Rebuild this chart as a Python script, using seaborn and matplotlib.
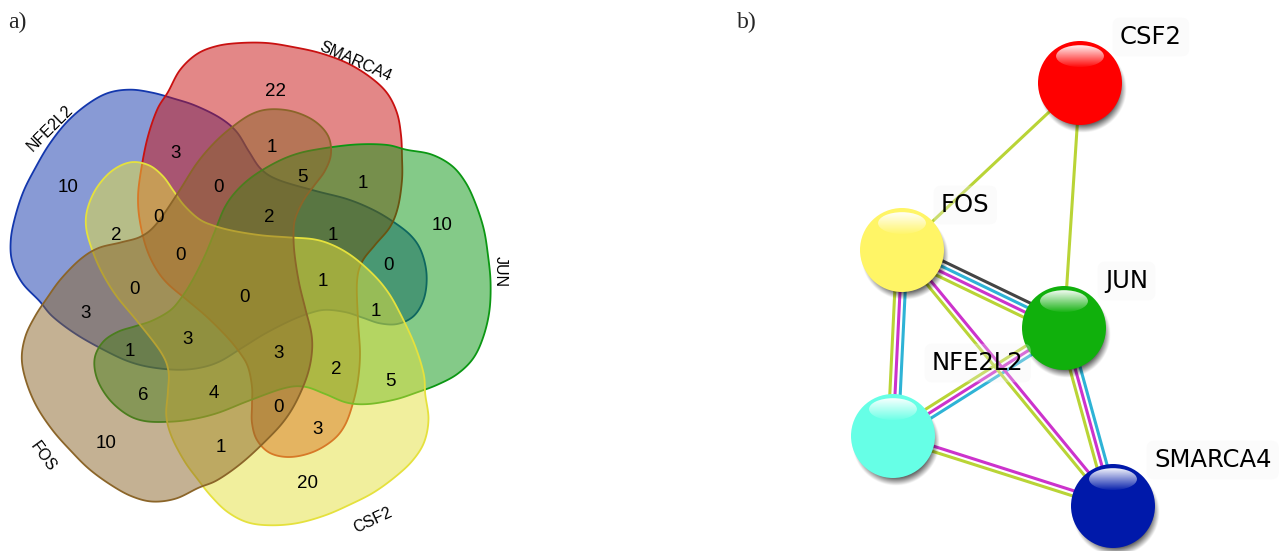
import numpy as np
import pandas as pd
import matplotlib
matplotlib.use("Agg")
import matplotlib.pyplot as plt
import seaborn as sns
from matplotlib.patches import Polygon, Ellipse

# ---------------- data ----------------
set_names = ["NFE2L2", "SMARCA4", "JUN", "CSF2", "FOS"]
set_colors = ["#1337ad", "#c91111", "#0b9713", "#e5e13d", "#8b6529"]

# counts of the 31 Venn regions
region_counts = [22, 3, 1, 10, 5, 1, 0, 0, 2, 10, 2, 1, 0, 0,
                 1, 0, 0, 1, 3, 3, 1, 3, 2, 5, 6, 4, 0, 3, 10, 1, 20]

genes = ["CSF2", "FOS", "JUN", "NFE2L2", "SMARCA4"]
gene_colors = ["#ff0000", "#fff566", "#10b00c", "#66ffe6", "#0019aa"]
node_x = [1080, 902, 1064, 893, 1113]
node_y = [83, 250, 328, 436, 506]

edge_source = ["FOS", "CSF2", "FOS", "FOS", "JUN", "JUN", "FOS", "NFE2L2"]
edge_target = ["CSF2", "JUN", "JUN", "NFE2L2", "NFE2L2", "SMARCA4", "SMARCA4", "SMARCA4"]
edge_evidence = [["textmining"], ["textmining"],
                 ["coexpression", "databases", "experiments", "textmining"],
                 ["databases", "experiments", "textmining"],
                 ["databases", "experiments", "textmining"],
                 ["databases", "experiments", "textmining"],
                 ["experiments", "textmining"],
                 ["experiments", "textmining"]]
evidence_colors = {"coexpression": "#444444", "databases": "#2eb3d6",
                   "experiments": "#cc33cc", "textmining": "#b9d436"}

# ---------------- layout ----------------
W, H = 1284, 551
venn_center = (247.5, 285.0)
set_rotation = [72, 0, -72, -144, 144]
# outline of one set (drawn for SMARCA4, rotated for the others)
base_outline = [(140, 177), (147, 140), (157, 110), (168, 92), (180, 70), (197, 54),
                (217, 46), (240, 43), (267, 43), (293, 47), (320, 53), (347, 63),
                (370, 77), (387, 93), (397, 113), (401, 135), (402, 157), (402, 180),
                (398, 207), (390, 227), (375, 245), (362, 262), (357, 282), (358, 320),
                (360, 353), (358, 380), (353, 403), (345, 425), (333, 440), (313, 452),
                (290, 457), (270, 453), (257, 440), (252, 423), (252, 405), (252, 387),
                (248, 367), (240, 353), (227, 337), (207, 317), (187, 300), (167, 283),
                (155, 267), (146, 247), (140, 222), (138, 200)]
set_label_xy = [(50, 128), (355, 62), (500, 272), (373, 520), (43, 457)]
set_label_rot = [45, -24, -90, 25, -54]
region_label_xy = [(275, 92), (176, 153), (272, 147), (68, 188), (302, 177), (363, 183),
                   (218, 188), (158, 217), (269, 218), (442, 225), (116, 236), (333, 236),
                   (180, 255), (388, 265), (323, 282), (134, 289), (245, 297), (376, 311),
                   (86, 313), (188, 339), (130, 352), (279, 353), (336, 370), (390, 381),
                   (143, 396), (214, 393), (278, 407), (318, 430), (106, 443), (221, 448),
                   (308, 483)]
label_xy = [(1120, 37), (941, 205), (1105, 281), (932, 363), (1154, 460)]


def closed_spline(pts, n=16):
    P = np.asarray(pts, float)
    N = len(P)
    t = np.linspace(0, 1, n, endpoint=False)[:, None]
    out = []
    for i in range(N):
        p0, p1, p2, p3 = P[i - 1], P[i], P[(i + 1) % N], P[(i + 2) % N]
        out.append(0.5 * (2 * p1 + (-p0 + p2) * t
                          + (2 * p0 - 5 * p1 + 4 * p2 - p3) * t ** 2
                          + (-p0 + 3 * p1 - 3 * p2 + p3) * t ** 3))
    return np.vstack(out)


def rotate(pts, deg, c):
    a = np.deg2rad(deg)
    u = pts[:, 0] - c[0]
    v = -(pts[:, 1] - c[1])
    u2 = u * np.cos(a) - v * np.sin(a)
    v2 = u * np.sin(a) + v * np.cos(a)
    return np.column_stack([c[0] + u2, c[1] - v2])


sns.set_theme(style="white")
plt.rcParams["font.family"] = ["Liberation Sans", "DejaVu Sans"]

fig = plt.figure(figsize=(W / 100, H / 100), dpi=100)
fig.patch.set_facecolor("white")

# ---------------- panel a: Venn diagram ----------------
ax_a = fig.add_axes([0, 0, 560 / W, 1])
ax_a.set_xlim(0, 560)
ax_a.set_ylim(H, 0)
ax_a.axis("off")

outline = closed_spline(base_outline)
for i, (name, col) in enumerate(zip(set_names, set_colors)):
    shape = rotate(outline, set_rotation[i], venn_center)
    rgb = matplotlib.colors.to_rgb(col)
    ax_a.add_patch(Polygon(shape, closed=True, facecolor=(*rgb, 0.5),
                           edgecolor=(*rgb, 1.0), linewidth=1.3, zorder=2 + i))
    ax_a.text(*set_label_xy[i], name, rotation=set_label_rot[i], fontsize=11.5,
              ha="center", va="center", color="black", zorder=20,
              rotation_mode="anchor")

for (x, y), c in zip(region_label_xy, region_counts):
    ax_a.text(x, y, str(c), fontsize=13.5, ha="center", va="center",
              color="black", zorder=20)

fig.text(8 / W, 1 - 22 / H, "a)", fontsize=17, family="Liberation Serif",
         ha="left", va="center")
fig.text(737 / W, 1 - 22 / H, "b)", fontsize=17, family="Liberation Serif",
         ha="left", va="center")

# ---------------- panel b: interaction network ----------------
ax_b = fig.add_axes([700 / W, 0, (W - 700) / W, 1])
ax_b.set_xlim(700, W)
ax_b.set_ylim(H, 0)
ax_b.axis("off")

nodes = pd.DataFrame({"gene": genes, "x": node_x, "y": node_y})
pos = {g: (x, y) for g, x, y in zip(genes, node_x, node_y)}
spacing = 5.2
for s, t, ev in zip(edge_source, edge_target, edge_evidence):
    (x0, y0), (x1, y1) = pos[s], pos[t]
    d = np.array([x1 - x0, y1 - y0], float)
    n = np.array([-d[1], d[0]]) / np.hypot(*d)
    k = len(ev)
    for j, e in enumerate(ev):
        off = (j - (k - 1) / 2) * spacing * n
        ax_b.plot([x0 + off[0], x1 + off[0]], [y0 + off[1], y1 + off[1]],
                  color=evidence_colors[e], lw=2.2, solid_capstyle="butt", zorder=1)

r = 42
# drop shadows
yy, xx = np.mgrid[-1:1:128j, -1:1:128j]
dist = np.hypot(xx, yy)
shadow = np.zeros((128, 128, 4))
shadow[..., 3] = np.clip((1 - dist) / 0.18, 0, 1) * 0.6
for g in genes:
    x, y = pos[g]
    R = r + 2
    ax_b.imshow(shadow, extent=(x - R + 3, x + R + 3, y + R + 6, y - R + 6),
                zorder=3, interpolation="bilinear")

sns.scatterplot(data=nodes, x="x", y="y", hue="gene", palette=gene_colors,
                s=(2 * r * 0.72) ** 2, linewidth=0, legend=False, ax=ax_b, zorder=4)

# glossy highlight on each sphere
grad = np.ones((64, 64, 4))
grad[..., 3] = np.linspace(0.95, 0.05, 64)[:, None]
for g in genes:
    x, y = pos[g]
    ex, ey, ew, eh = x, y - 0.64 * r, 1.14 * r, 0.52 * r
    im = ax_b.imshow(grad, extent=(ex - ew / 2, ex + ew / 2, ey + eh / 2, ey - eh / 2),
                     zorder=5, interpolation="bilinear")
    clip = Ellipse((ex, ey), ew, eh, transform=ax_b.transData, facecolor="none",
                   edgecolor="none")
    ax_b.add_patch(clip)
    im.set_clip_path(clip)

for g, (lx, ly) in zip(genes, label_xy):
    ax_b.text(lx, ly, g, fontsize=17.5, family="DejaVu Sans", ha="left", va="center",
              color="black", zorder=10,
              bbox=dict(boxstyle="round,pad=0.3", fc="#f2f2f2", ec="none", alpha=0.3))

ax_b.set_xlim(700, W)
ax_b.set_ylim(H, 0)
ax_b.set_aspect("auto")
ax_b.set_xlabel("")
ax_b.set_ylabel("")

fig.savefig("out.png", dpi=100, facecolor="white")
